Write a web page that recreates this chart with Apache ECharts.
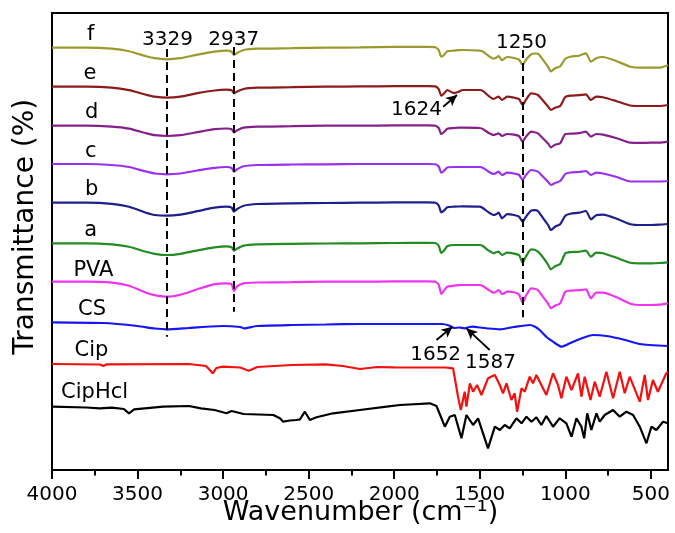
<!DOCTYPE html>
<html><head><meta charset="utf-8">
<script src="https://cdn.jsdelivr.net/npm/echarts@6/dist/echarts.min.js"></script>
<style>html,body{margin:0;padding:0;background:#fff}#chart{width:675px;height:533px}</style>
</head><body><div id="chart"></div>
<script>
// ---- data (offset-stacked FTIR spectra, arbitrary transmittance units) ----
const wnPoly = [4000,3800,3650,3550,3450,3400,3329,3250,3150,3050,2980,2950,2937,2920,2880,2800,2600,2400,2200,2000,1800,1760,1740,1725,1710,1690,1650,1624,1600,1500,1480,1450,1420,1405,1390,1370,1340,1300,1270,1250,1230,1200,1180,1160,1140,1100,1085,1060,1030,1000,970,920,880,850,820,780,700,620,560,500,450,400];
const polyNames = ['f','e','d','c','b','a','PVA'];
const polyBase = [422.3,383.3,344.3,306,267.3,226.7,188.3];
const dropF = [0,0,1,3.5,8.5,10.5,11.6,10.5,7,4,3,4,7.3,5.5,2.3,1,0.5,0,-0.3,-0.8,-0.8,-0.5,2.5,9,7.5,3.5,3,2.5,2.3,3,4,8,11,10,8.5,12.5,9.3,10.3,12,17.3,12,6.6,5.8,6,10,19.5,23.8,20.5,18.5,11,9,8,5.6,14,10.5,9.3,13.5,19,20,20,20,17.5];
const dropE = [0,0,1,3.5,8,10,11,10,6.5,3.8,3,3.5,6.6,5,2.3,1,0.5,0,-0.3,-0.5,-0.5,-0.3,2.5,9,7,3.5,6.5,5,3.3,3.3,4.5,9,12.3,11,10,13.3,10,11,12.5,18.3,13,6.6,7,8.3,12,20,23.3,21,19.3,10.3,9,8.5,7.6,13.3,10,10.5,14.5,18.8,19.3,19.3,19.3,18.3];
const dropD = [0,0,1,3,7.5,9.5,10.3,9.5,6.5,3.5,2.8,3.5,6.6,4.8,2,1,0.5,0,0,-0.3,-0.3,0,2.3,8.3,6.5,3,2.3,2,2,2.3,3.5,7,9.3,8.5,7.6,10.3,8.3,9,10.5,16,11,6,6.5,7.6,11,18,21.6,19,17.6,8.3,8,7.5,6,11,8.3,9,12.5,17,17.2,17,17,16];
const dropC = [0,0,1,3,7.5,9.5,10.3,9.5,6.5,3.8,3,4,7.7,5.5,2.3,1,0.5,0.3,0,0,0,0.3,2.5,8.7,7,3.5,3,3,3,3,4,7.5,10,9,7.7,11,8.7,9.5,11,16,11,6,6.5,7.7,11,18,21,19,17,10,8.5,8,7,11,8.7,9.5,13,17.5,17.5,17.5,17.5,17];
const dropB = [0,0,1.2,4,10,12.3,13,12,8.5,5,4,5,9,6.5,3,1.3,0.6,0.3,0,-0.3,-0.3,0,2.8,9.6,8,4.5,4,3.8,3.7,4,5.5,9.5,12.3,11.5,10,15.6,11.5,12.3,14,19,14,8,7.5,8.3,13,22.5,27.3,24,21.5,13,11,10,8.3,16.6,12.6,12,16,21.5,22.3,22.3,22,21.3];
const dropA = [0,0,1,3.5,8.5,10.5,11.7,10.5,7,4,3,4,7.4,5.5,2.3,1,0.5,0.2,0,-0.3,-0.5,-0.3,2.5,9.6,7.5,3,1.7,1.7,1.7,1.7,3,7,10,9,8.4,11.7,9.4,10.3,12,19.4,13,6,6.5,8.4,12,21.5,26,23,20.7,10,8.8,8.5,7.4,13.4,9.4,10,14.5,19.5,20,20,19.7,19];
const dropPVA = [0,0,1,4,11,13.5,15,13,7.6,2.5,1.6,2.5,9.3,5,1.6,0.8,0.5,0,0,-0.3,-0.3,0,3,12.3,9,5,4,3.5,3.3,3.3,4.5,8,11,10,8.3,12.3,10,10.5,13,21,14,6.6,7,8.3,13,22,26.6,24,21.6,10,9,8.5,7.6,16.6,11,11,15.5,22,23.3,23.3,23,21.6];

const wnCS = [4000,3700,3500,3400,3329,3200,3000,2900,2880,2800,2600,2400,2200,2000,1720,1680,1650,1620,1590,1560,1540,1500,1450,1383,1300,1208,1180,1150,1110,1072,1023,974,900,838,760,650,565,400];
const valCS = [147.7,147,144,141.5,140.7,142,144,143,141.7,144,145,145.5,146,146,146,144.5,142,142.5,141.7,143,143.3,142.5,141.5,140.7,143,145,143.5,140,133,128.3,123.3,126.7,132,135,134,130,126,124];

const wnCip = [4000,3720,3700,3680,3200,3100,3060,3040,3000,2900,2850,2800,2600,2400,2300,2200,2100,2000,1800,1700,1656,1627,1611,1588,1578,1558,1539,1516,1490,1452,1412,1383,1364,1344,1315,1296,1282,1256,1237,1208,1189,1169,1140,1111,1072,1043,1023,994,964,926,906,887,853,828,799,760,721,682,653,624,565,536,517,488,459,410,400];
const valCip = [106,105.5,104,105.7,106,104,96.7,102,103.3,102.5,99.3,103,105,105.7,104,101,103,102.7,102.5,102.5,101.7,73.3,60,78.3,63.3,86.7,78.3,85,75,91.7,95,85,76.7,86.7,70,76.7,58.3,81.7,78.3,93.3,86.7,95,85,75,96.7,85,71.7,93.3,80,96.7,73.3,93.3,70,88.3,73.3,98.3,71.7,98.3,76.7,93.3,68.3,95,70,90,78.3,96.7,98];

const wnHcl = [4000,3800,3720,3650,3580,3550,3520,3350,3200,3130,3050,2980,2950,2880,2707,2668,2649,2610,2571,2551,2522,2493,2454,2357,2201,2045,1967,1792,1753,1704,1675,1646,1607,1578,1539,1510,1452,1412,1383,1354,1325,1286,1256,1227,1198,1169,1140,1111,1072,1033,994,964,935,906,890,872,848,818,799,770,721,682,643,604,565,526,497,468,429,400];
const valHcl = [63.3,62.5,61.7,62.3,61,56.7,60.7,63.3,64,61.7,60,56.7,59,56,55,51.7,48.3,49.5,50,50.7,58.3,50,52.7,56.7,60,63.3,65,66.7,64,43.3,53.3,55,31.7,55,45,51.7,21.7,43.3,40,45,41.7,51.7,46.7,53.3,48.3,52.7,45,54,43.3,51.7,46.7,33.3,51.7,43.3,31.7,56.7,40,56.7,48.3,55,60,53.3,58.3,55,43.3,26.7,43.3,40,48.3,46.7];

const majorTicks = [4000,3500,3000,2500,2000,1500,1000,500];
const minorTicks = [3750,3250,2750,2250,1750,1250,750];

const labelNames = ['f','e','d','c','b','a','PVA','CS','Cip','CipHcl'];
const labelWn = [3774,3778,3768,3774,3768,3774,3758,3766,3769,3751];
const labelLevel = [435.1,396.1,357.1,318.8,280.1,239.5,199.6,160,119,77.3];

const noteTexts = ['3329','2937','1250','1624','1652','1587'];
const noteWn = [3325,2938,1256,1870,1758,1437];
const noteLevel = [430.2,430.2,427.6,360.2,115.6,107.3];

const peakWn = [3329,2937,1250];
const peakTop = [421,423,420];
const peakBottom = [133.3,158.3,152.7];

const arrowFrom = [[1714,363.3],[1753,130],[1442,120]];
const arrowTo = [[1633,375],[1660,143.3],[1578,141.7]];

// ---- styling ----
const FONT = 'DejaVu Sans';
const LW = 2.2;
const polyColors = ['#9a9a2e','#8c1c1c','#85208a','#9b30f0','#1e1e8c','#228b22','#f033f0'];
const polyDrops = [dropF,dropE,dropD,dropC,dropB,dropA,dropPVA];

const series = polyNames.map((n,k)=>({
  name:n, type:'line', showSymbol:false, smooth:0.2, silent:true,
  data: wnPoly.map((w,i)=>[w, +(polyBase[k]-polyDrops[k][i]).toFixed(2)]),
  lineStyle:{color:polyColors[k], width:LW}, itemStyle:{color:polyColors[k]}
}));
series.push({name:'CS', type:'line', showSymbol:false, smooth:0.2, silent:true,
  data: wnCS.map((w,i)=>[w,valCS[i]]), lineStyle:{color:'#1515f5',width:LW}, itemStyle:{color:'#1515f5'}});
series.push({name:'Cip', type:'line', showSymbol:false, silent:true,
  data: wnCip.map((w,i)=>[w,valCip[i]]), lineStyle:{color:'#f51010',width:LW}, itemStyle:{color:'#f51010'}});
series.push({name:'CipHcl', type:'line', showSymbol:false, silent:true,
  data: wnHcl.map((w,i)=>[w,valHcl[i]]), lineStyle:{color:'#000',width:LW}, itemStyle:{color:'#000'}});

const textLabel = (size)=>({show:true, position:'inside', formatter:'{b}', color:'#000', opacity:1,
  textBorderWidth:0, fontSize:size, fontFamily:FONT});

series.push({name:'labels', type:'scatter', symbolSize:1, silent:true, itemStyle:{color:'rgba(0,0,0,0)'}, z:10,
  data: labelNames.map((n,i)=>({name:n, value:[labelWn[i],labelLevel[i]]})),
  label: textLabel(21)
});

const mlData = peakWn.map((w,i)=>[
  {coord:[w,peakTop[i]], symbol:'none'},
  {coord:[w,peakBottom[i]], symbol:'none', lineStyle:{type:[8,5], width:2, color:'#000'}}
]).concat(arrowFrom.map((p,i)=>[
  {coord:p, symbol:'none'},
  {coord:arrowTo[i], symbol:'arrow', symbolSize:[8,11], lineStyle:{type:'solid', width:1.8, color:'#000'}}
]));

series.push({name:'notes', type:'scatter', symbolSize:1, silent:true, itemStyle:{color:'rgba(0,0,0,0)'}, z:10,
  data: noteTexts.map((t,i)=>({name:t, value:[noteWn[i],noteLevel[i]]})),
  label: textLabel(20),
  markLine:{silent:true, animation:false, symbol:['none','none'], label:{show:false},
    lineStyle:{type:[8,5], width:2, color:'#000'}, emphasis:{disabled:true}, data: mlData}
});

const chart = echarts.init(document.getElementById('chart'), null, {renderer:'canvas'});
chart.setOption({
  animation:false,
  backgroundColor:'#fff',
  grid:{left:52, right:7, top:13, bottom:63, show:true, borderColor:'#000', borderWidth:2, containLabel:false, outerBoundsMode:'none'},
  xAxis:[{
    type:'value', min:400, max:4000, inverse:true, position:'bottom',
    axisLine:{show:true, onZero:false, lineStyle:{color:'#000', width:2}},
    axisTick:{show:true, inside:false, length:9, customValues:majorTicks, lineStyle:{color:'#000', width:2}},
    axisLabel:{show:true, customValues:majorTicks, margin:15, color:'#000', fontSize:20, fontFamily:FONT, formatter:(v)=>String(v)},
    splitLine:{show:false}
  },{
    type:'value', min:400, max:4000, inverse:true, position:'bottom',
    axisLine:{show:false},
    axisTick:{show:true, inside:false, length:5.5, customValues:minorTicks, lineStyle:{color:'#000', width:2}},
    axisLabel:{show:false}, splitLine:{show:false}
  }],
  yAxis:{type:'value', min:0, max:457, show:false},
  graphic:[
    {type:'text', x:360.5, y:513, silent:true,
      style:{text:'Wavenumber (cm\u207B\u00B9)', fill:'#000', font:'27px "DejaVu Sans"', textAlign:'center', textVerticalAlign:'middle'}},
    {type:'text', x:25.3, y:226.7, rotation:Math.PI/2, silent:true,
      style:{text:'Transmittance (%)', fill:'#000', font:'28px "DejaVu Sans"', textAlign:'center', textVerticalAlign:'middle'}}
  ],
  series: series
});
</script></body></html>
